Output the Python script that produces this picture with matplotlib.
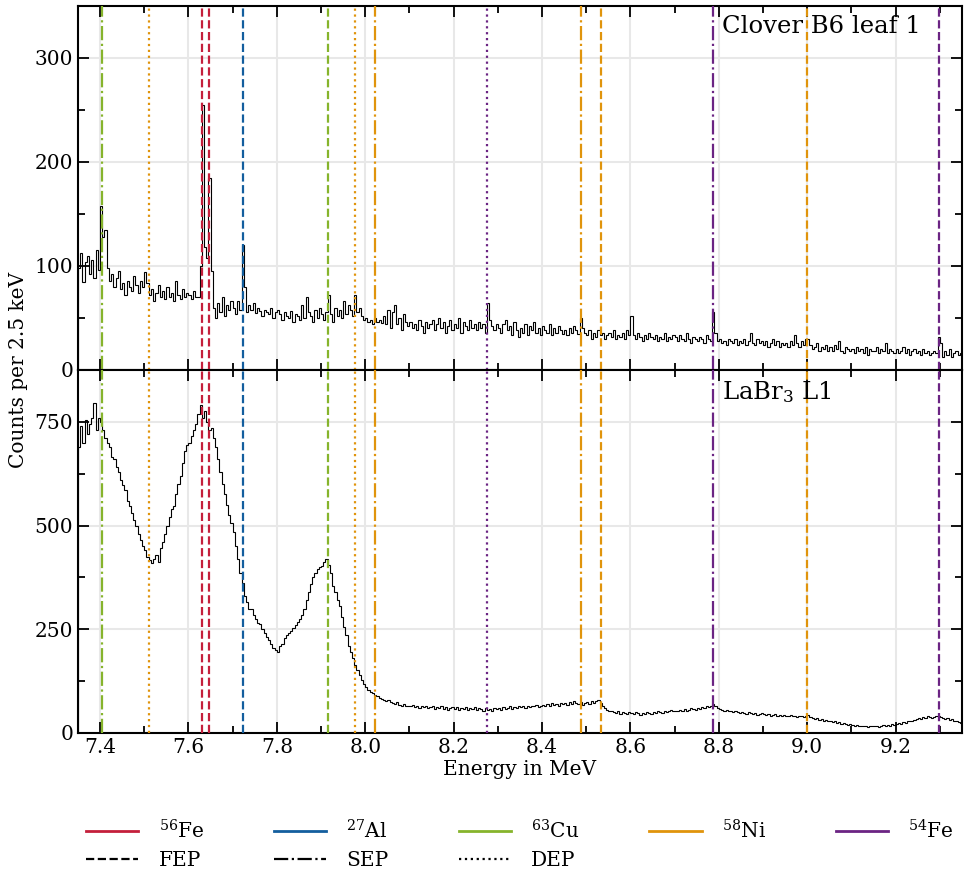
import matplotlib
matplotlib.use('Agg')
import numpy as np
import matplotlib.pyplot as plt
from matplotlib.lines import Line2D
from matplotlib.ticker import MultipleLocator

plt.rcParams['font.family'] = 'DejaVu Serif'
plt.rcParams['mathtext.fontset'] = 'dejavuserif'

# spectra, binned from 7.35 MeV in 5 keV steps (values in counts per 2.5 keV)
bin_start = 7.35
bin_width = 0.005

clover = [
    98, 112, 85, 104, 110, 92, 106, 88, 115, 96,
    158, 128, 135, 98, 86, 92, 80, 88, 95, 78,
    84, 72, 86, 80, 76, 90, 82, 74, 86, 80,
    94, 84, 72, 78, 66, 74, 82, 70, 76, 68,
    80, 70, 74, 66, 86, 72, 68, 78, 70, 74,
    72, 68, 76, 70, 70, 100, 255, 118, 108, 185,
    95, 60, 50, 64, 56, 70, 52, 62, 58, 66,
    60, 54, 66, 58, 120, 80, 56, 62, 58, 64,
    55, 60, 57, 52, 58, 56, 54, 60, 50, 56,
    58, 54, 48, 56, 52, 50, 57, 46, 54, 52,
    48, 62, 50, 70, 56, 52, 46, 58, 50, 60,
    54, 48, 56, 72, 54, 46, 60, 52, 58, 50,
    66, 54, 62, 58, 52, 72, 56, 60, 52, 48,
    50, 46, 48, 44, 50, 46, 48, 45, 52, 44,
    58, 40, 56, 62, 44, 50, 38, 54, 46, 42,
    46, 40, 44, 38, 48, 42, 36, 46, 40, 44,
    48, 38, 44, 50, 40, 46, 36, 42, 48, 38,
    44, 40, 50, 36, 46, 42, 38, 48, 40, 44,
    38, 46, 40, 44, 36, 64, 48, 42, 38, 44,
    40, 36, 44, 48, 38, 42, 34, 46, 38, 32,
    40, 36, 44, 34, 42, 38, 46, 36, 40, 34,
    42, 38, 36, 44, 34, 40, 36, 42, 38, 35,
    38, 34, 40, 36, 42, 38, 35, 50, 40, 36,
    34, 38, 30, 36, 32, 38, 34, 36, 30, 34,
    36, 32, 38, 30, 34, 32, 36, 30, 38, 34,
    52, 34, 30, 36, 32, 28, 34, 30, 36, 32,
    30, 34, 28, 32, 30, 36, 28, 32, 30, 34,
    32, 28, 34, 30, 28, 36, 30, 26, 32, 30,
    28, 32, 30, 26, 34, 30, 28, 56, 36, 28,
    30, 26, 28, 24, 30, 28, 26, 30, 24, 28,
    26, 30, 24, 28, 36, 26, 24, 30, 26, 28,
    24, 28, 22, 26, 30, 24, 28, 22, 26, 24,
    26, 22, 28, 24, 34, 26, 22, 28, 24, 30,
    30, 24, 20, 22, 26, 18, 22, 20, 24, 18,
    22, 18, 24, 20, 28, 18, 16, 22, 20, 18,
    20, 16, 22, 18, 20, 16, 22, 14, 20, 18,
    18, 22, 16, 20, 18, 26, 16, 20, 18, 16,
    20, 16, 18, 22, 16, 20, 14, 18, 20, 16,
    18, 14, 20, 16, 18, 14, 16, 18, 16, 32,
    26, 12, 18, 14, 20, 12, 16, 18, 14, 16,
]

labr = [
    690, 740, 700, 755, 720, 745, 760, 795, 730, 760,
    750, 730, 712, 700, 690, 665, 660, 640, 628, 610,
    598, 585, 560, 548, 530, 514, 500, 480, 465, 450,
    440, 425, 418, 410, 420, 428, 412, 445, 460, 480,
    500, 520, 540, 548, 575, 600, 620, 650, 680, 695,
    700, 715, 730, 745, 770, 790, 760, 775, 750, 730,
    735, 710, 690, 660, 630, 600, 575, 550, 525, 505,
    485, 450, 420, 385, 362, 330, 315, 300, 300, 285,
    275, 265, 262, 250, 240, 232, 225, 215, 205, 200,
    195, 210, 215, 228, 235, 240, 245, 252, 260, 268,
    275, 285, 300, 320, 340, 360, 375, 385, 395, 400,
    402, 412, 420, 405, 385, 355, 340, 320, 305, 280,
    255, 235, 210, 195, 180, 165, 152, 140, 128, 118,
    112, 104, 98, 96, 92, 88, 84, 82, 80, 78,
    80, 74, 72, 70, 74, 68, 66, 70, 64, 66,
    64, 68, 62, 66, 60, 64, 62, 66, 60, 62,
    64, 58, 62, 60, 64, 58, 62, 56, 60, 62,
    58, 62, 56, 60, 58, 62, 56, 60, 58, 62,
    56, 60, 58, 54, 60, 56, 58, 54, 60, 58,
    60, 56, 62, 58, 60, 64, 58, 62, 60, 64,
    62, 66, 60, 64, 62, 66, 64, 68, 62, 66,
    68, 64, 70, 66, 72, 68, 70, 66, 72, 70,
    72, 68, 74, 70, 76, 72, 70, 74, 68, 72,
    74, 70, 76, 72, 78, 80, 72, 66, 60, 56,
    54, 52, 50, 48, 52, 46, 50, 48, 46, 50,
    48, 46, 50, 48, 44, 48, 46, 50, 48, 46,
    50, 48, 52, 50, 48, 54, 50, 52, 56, 52,
    54, 52, 56, 54, 58, 54, 56, 60, 58, 56,
    60, 58, 62, 60, 64, 62, 66, 70, 64, 60,
    58, 56, 54, 56, 52, 54, 50, 52, 50, 48,
    50, 48, 46, 50, 48, 46, 48, 44, 46, 48,
    46, 44, 46, 42, 44, 46, 42, 44, 40, 44,
    42, 40, 44, 40, 42, 38, 42, 40, 38, 42,
    44, 38, 36, 34, 36, 32, 34, 30, 32, 28,
    30, 26, 28, 24, 26, 22, 24, 22, 20, 22,
    20, 18, 20, 16, 18, 16, 18, 14, 16, 18,
    16, 18, 14, 18, 20, 16, 20, 18, 22, 20,
    22, 24, 22, 26, 24, 28, 30, 28, 32, 34,
    36, 34, 38, 36, 40, 38, 36, 38, 40, 42,
    38, 36, 34, 36, 32, 34, 30, 28, 26, 24,
]

# gamma lines: energy (MeV), isotope, peak type
line_energy = [7.631, 7.646, 7.724, 7.405, 7.916, 8.999, 8.533, 8.488,
               8.022, 7.977, 7.511, 9.298, 8.787, 8.276]
line_isotope = ['56Fe', '56Fe', '27Al', '63Cu', '63Cu', '58Ni', '58Ni', '58Ni',
                '58Ni', '58Ni', '58Ni', '54Fe', '54Fe', '54Fe']
line_type = ['FEP', 'FEP', 'FEP', 'SEP', 'FEP', 'FEP', 'FEP', 'SEP',
             'SEP', 'DEP', 'DEP', 'FEP', 'SEP', 'DEP']

isotopes = ['56Fe', '27Al', '63Cu', '58Ni', '54Fe']
iso_colors = {'56Fe': '#c41f3b', '27Al': '#135e9e', '63Cu': '#86b42c',
              '58Ni': '#e0940c', '54Fe': '#6b2483'}
type_styles = {'FEP': '--', 'SEP': '-.', 'DEP': ':'}

edges = bin_start + bin_width * np.arange(len(clover) + 1)

fig = plt.figure(figsize=(9.71, 8.73), dpi=100)
ax1 = fig.add_axes([0.0803, 0.5762, 0.9104, 0.4170])
ax2 = fig.add_axes([0.0803, 0.1604, 0.9104, 0.4158], sharex=ax1)

for ax, counts, ymax, major, label in [
        (ax1, clover, 350, 100, 'Clover B6 leaf 1'),
        (ax2, labr, 875, 250, r'LaBr$_3$ L1')]:
    ax.stairs(counts, edges, color='black', linewidth=0.8, zorder=3)
    for e, iso, t in zip(line_energy, line_isotope, line_type):
        ax.axvline(e, color=iso_colors[iso], linestyle=type_styles[t],
                   linewidth=1.6, zorder=4)
    ax.set_ylim(0, ymax)
    ax.yaxis.set_major_locator(MultipleLocator(major))
    ax.yaxis.set_minor_locator(MultipleLocator(major / 2))
    ax.xaxis.set_major_locator(MultipleLocator(0.2))
    ax.xaxis.set_minor_locator(MultipleLocator(0.1))
    ax.grid(True, which='major', color='#e8e8e8', linewidth=1.5)
    ax.set_axisbelow(True)
    ax.tick_params(which='both', direction='in', top=True, right=True,
                   labelsize=14.5, width=1.3)
    ax.tick_params(which='major', length=8)
    ax.tick_params(which='minor', length=5)
    for s in ax.spines.values():
        s.set_linewidth(1.5)
    ax.text(0.7285, 0.975, label, transform=ax.transAxes, ha='left', va='top',
            fontsize=17.5, zorder=5)

ax1.set_xlim(7.35, 9.35)
ax1.tick_params(labelbottom=False)
ax2.set_xticks([7.4, 7.6, 7.8, 8.0, 8.2, 8.4, 8.6, 8.8, 9.0, 9.2])
ax2.set_xticklabels(['7.4', '7.6', '7.8', '8.0', '8.2', '8.4', '8.6', '8.8', '9.0', '9.2'])
ax2.set_xlabel('Energy in MeV', fontsize=14.5, labelpad=2)
fig.text(0.019, 1 - 370 / 873, 'Counts per 2.5 keV', rotation=90,
         ha='center', va='center', fontsize=14.5)

# legend: isotopes in first row, peak types in second row
iso_labels = {'56Fe': r'$^{56}$Fe', '27Al': r'$^{27}$Al', '63Cu': r'$^{63}$Cu',
              '58Ni': r'$^{58}$Ni', '54Fe': r'$^{54}$Fe'}
iso_handles = [Line2D([], [], color=iso_colors[i], lw=2) for i in isotopes]
type_handles = [Line2D([], [], color='black', lw=1.6, linestyle=type_styles[t])
                for t in ['FEP', 'SEP', 'DEP']]
handles = [iso_handles[0], type_handles[0], iso_handles[1], type_handles[1],
           iso_handles[2], type_handles[2], iso_handles[3], iso_handles[4]]
labels = [iso_labels['56Fe'], 'FEP', iso_labels['27Al'], 'SEP',
          iso_labels['63Cu'], 'DEP', iso_labels['58Ni'], iso_labels['54Fe']]
ax2.legend(handles, labels, ncol=5, frameon=False, fontsize=14.5,
           loc='upper left', bbox_to_anchor=(0.0, -0.215, 1.0, 0.0),
           mode='expand', handlelength=2.6, handletextpad=1.0,
           labelspacing=0.45, borderaxespad=0)

plt.savefig('out.png', dpi=100)
plt.close()
